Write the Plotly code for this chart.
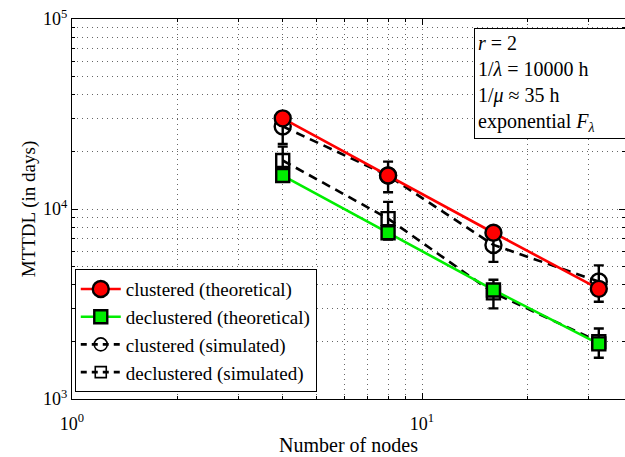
import plotly.graph_objects as go

# Number of nodes
nodes = [4, 8, 16, 32]

# Theoretical MTTDL (days)
clustered_theory = [30000, 15000, 7500, 3800]
declustered_theory = [15000, 7500, 3750, 1950]

# Simulated MTTDL (days) with error half-widths
clustered_sim = [27200, 15000, 6470, 4150]
clustered_sim_err = [5200, 2750, 1200, 900]
declustered_sim = [18000, 8900, 3620, 2000]
declustered_sim_err = [3300, 2000, 620, 350]

x_tickvals = [1, 10]
x_ticktext = ["10<sup>0</sup>", "10<sup>1</sup>"]
x_minorvals = [2, 3, 4, 5, 6, 7, 8, 9, 20, 30, 40]
y_tickvals = [1e3, 1e4, 1e5]
y_ticktext = ["10<sup>3</sup>", "10<sup>4</sup>", "10<sup>5</sup>"]
y_minorvals = [m * d for d in (1e3, 1e4) for m in range(2, 10)]

FONT = "Liberation Serif, Times New Roman, serif"
LW = 2.6
DASH = "9px,6px"

fig = go.Figure()

# simulated curves (drawn underneath)
fig.add_trace(go.Scatter(
    x=nodes, y=clustered_sim, mode="lines+markers", name="clustered (simulated)",
    line=dict(color="black", width=LW, dash=DASH),
    marker=dict(symbol="circle-open", size=16, color="black", line=dict(width=2.4)),
    error_y=dict(type="data", array=clustered_sim_err, color="black", thickness=2.4, width=5),
    showlegend=False,
))
fig.add_trace(go.Scatter(
    x=nodes, y=declustered_sim, mode="lines+markers", name="declustered (simulated)",
    line=dict(color="black", width=LW, dash=DASH),
    marker=dict(symbol="square-open", size=13, color="black", line=dict(width=2.4)),
    error_y=dict(type="data", array=declustered_sim_err, color="black", thickness=2.4, width=5),
    showlegend=False,
))

# theoretical curves
fig.add_trace(go.Scatter(
    x=nodes, y=clustered_theory, mode="lines+markers", name="clustered (theoretical)",
    line=dict(color="#ff0000", width=LW),
    marker=dict(symbol="circle", size=16, color="#ff0000", line=dict(color="black", width=2.4)),
))
fig.add_trace(go.Scatter(
    x=nodes, y=declustered_theory, mode="lines+markers", name="declustered (theoretical)",
    line=dict(color="#00ee00", width=LW),
    marker=dict(symbol="square", size=13, color="#00ee00", line=dict(color="black", width=2.4)),
))

# legend entries for the simulated series
fig.add_trace(go.Scatter(
    x=[None], y=[None], mode="lines+markers", name="clustered (simulated)",
    line=dict(color="black", width=LW, dash="6px,5px"),
    marker=dict(symbol="circle-open", size=13, color="black", line=dict(width=1.6)),
))
fig.add_trace(go.Scatter(
    x=[None], y=[None], mode="lines+markers", name="declustered (simulated)",
    line=dict(color="black", width=LW, dash="6px,5px"),
    marker=dict(symbol="square-open", size=11, color="black", line=dict(width=1.6)),
))

grid = dict(showgrid=True, gridcolor="rgba(0,0,0,0.6)", griddash="1px,4px", gridwidth=1)

fig.update_xaxes(
    type="log", range=[0, 1.58],
    tickvals=x_tickvals, ticktext=x_ticktext,
    ticks="inside", ticklen=6, tickcolor="black", ticklabelstandoff=8,
    showline=True, linecolor="black", linewidth=1, mirror="ticks",
    minor=dict(tickvals=x_minorvals, ticks="inside", ticklen=3, tickcolor="black", **grid),
    zeroline=False,
    title=dict(text="Number of nodes", font=dict(size=20, family=FONT, color="black"), standoff=0),
    tickfont=dict(size=18, family=FONT, color="black"),
    **grid,
)
fig.update_yaxes(
    type="log", range=[3, 5],
    tickvals=y_tickvals, ticktext=y_ticktext,
    ticks="inside", ticklen=6, tickcolor="black",
    showline=True, linecolor="black", linewidth=1, mirror="ticks",
    minor=dict(tickvals=y_minorvals, ticks="inside", ticklen=3, tickcolor="black", **grid),
    zeroline=False,
    title=dict(text="MTTDL (in days)", font=dict(size=19, family=FONT, color="black"), standoff=2),
    tickfont=dict(size=18, family=FONT, color="black"),
    **grid,
)

fig.add_annotation(
    xref="paper", yref="paper", x=0.727, y=0.976, xanchor="left", yanchor="top",
    text=("<i>r</i> = 2<br>1/<i>λ</i> = 10000 h<br>1/<i>μ</i> ≈ 35 h<br>"
          "exponential <i>F</i><sub><i>λ</i></sub>"),
    align="left", showarrow=False, width=165,
    font=dict(size=20, family=FONT, color="black"),
    bordercolor="black", borderwidth=1, borderpad=3, bgcolor="white",
)

fig.update_layout(
    width=625, height=457,
    margin=dict(l=72, r=0, t=19, b=58),
    paper_bgcolor="white", plot_bgcolor="white",
    font=dict(family=FONT, color="black"),
    legend=dict(
        x=0.005, y=0.018, xanchor="left", yanchor="bottom",
        bgcolor="white", bordercolor="black", borderwidth=1,
        font=dict(size=19, family=FONT, color="black"),
        tracegroupgap=0, itemwidth=40,
    ),
)

fig.write_html("out.html")
